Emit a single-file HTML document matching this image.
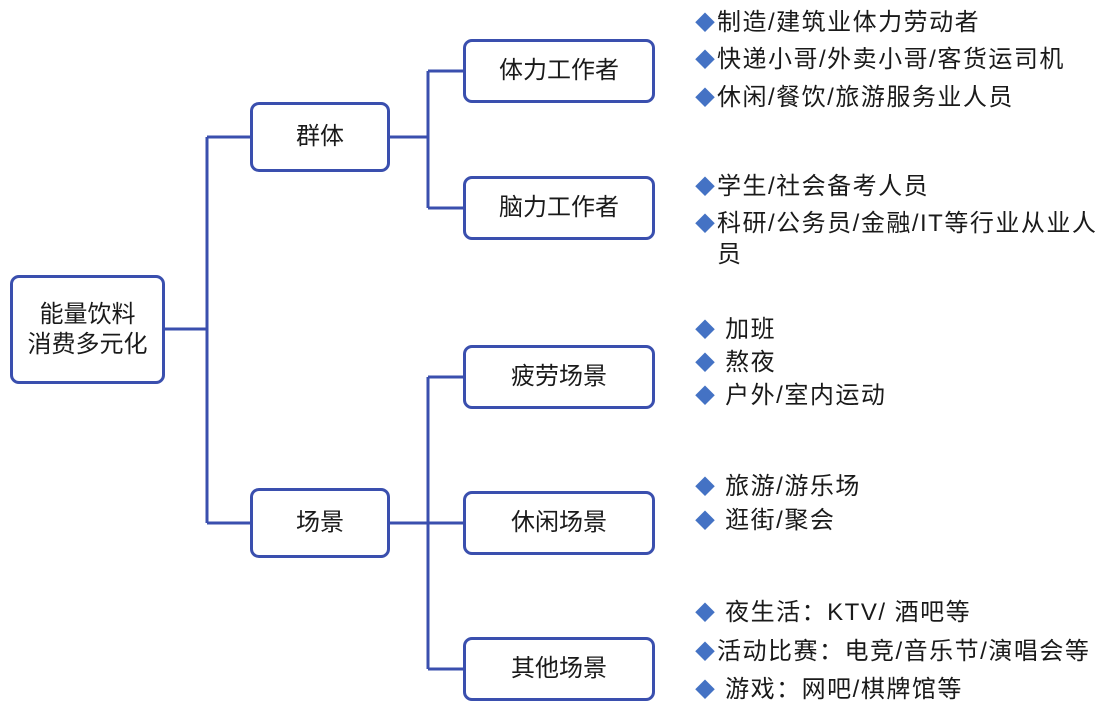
<!DOCTYPE html>
<html><head><meta charset="utf-8"><style>
body{margin:0;width:1116px;height:720px;background:#fff;position:relative;overflow:hidden;font-family:"Liberation Sans","Noto Sans CJK SC",sans-serif;color:#1a1a1a}
.b{position:absolute;border:3px solid #3a4fae;border-radius:9px;box-sizing:border-box;display:flex;align-items:center;justify-content:center;font-size:24px;background:#fff;text-align:center;line-height:30px}
.t{position:absolute;font-size:24px;line-height:30px;white-space:nowrap;letter-spacing:1.5px}
.t i{font-style:normal;color:#4472c4;font-size:20px;letter-spacing:0;display:inline-block;width:22px}
</style></head><body>
<svg width="1116" height="720" style="position:absolute;left:0;top:0">
<g stroke="#3a4fae" stroke-width="3" fill="none">
<path d="M165 329 H207 M207 137 V523 M207 137 H250 M207 523 H250"/>
<path d="M390 137 H428 M428 71 V208 M428 71 H464 M428 208 H464"/>
<path d="M390 523 H464 M428 377 V669 M428 377 H464 M428 669 H464"/>
</g></svg>
<div class="b" style="left:10px;top:275px;width:155px;height:109px">能量饮料<br>消费多元化</div>
<div class="b" style="left:250px;top:102px;width:140px;height:70px">群体</div>
<div class="b" style="left:250px;top:488px;width:140px;height:70px">场景</div>
<div class="b" style="left:463px;top:39px;width:192px;height:64px">体力工作者</div>
<div class="b" style="left:463px;top:176px;width:192px;height:64px">脑力工作者</div>
<div class="b" style="left:463px;top:345px;width:192px;height:64px">疲劳场景</div>
<div class="b" style="left:463px;top:491px;width:192px;height:64px">休闲场景</div>
<div class="b" style="left:463px;top:637px;width:192px;height:64px">其他场景</div>

<div class="t" style="left:695px;top:8px"><i>◆</i>制造/建筑业体力劳动者</div>
<div class="t" style="left:695px;top:45px"><i>◆</i>快递小哥/外卖小哥/客货运司机</div>
<div class="t" style="left:695px;top:83px"><i>◆</i>休闲/餐饮/旅游服务业人员</div>
<div class="t" style="left:695px;top:172px"><i>◆</i>学生/社会备考人员</div>
<div class="t" style="left:695px;top:209px"><i>◆</i>科研/公务员/金融/IT等行业从业人</div>
<div class="t" style="left:695px;top:240px"><i></i>员</div>
<div class="t" style="left:695px;top:315px"><i>◆</i> 加班</div>
<div class="t" style="left:695px;top:348px"><i>◆</i> 熬夜</div>
<div class="t" style="left:695px;top:381px"><i>◆</i> 户外/室内运动</div>
<div class="t" style="left:695px;top:472px"><i>◆</i> 旅游/游乐场</div>
<div class="t" style="left:695px;top:506px"><i>◆</i> 逛街/聚会</div>
<div class="t" style="left:695px;top:598px"><i>◆</i> 夜生活：KTV/ 酒吧等</div>
<div class="t" style="left:695px;top:637px"><i>◆</i>活动比赛：电竞/音乐节/演唱会等</div>
<div class="t" style="left:695px;top:675px"><i>◆</i> 游戏：网吧/棋牌馆等</div>
</body></html>
